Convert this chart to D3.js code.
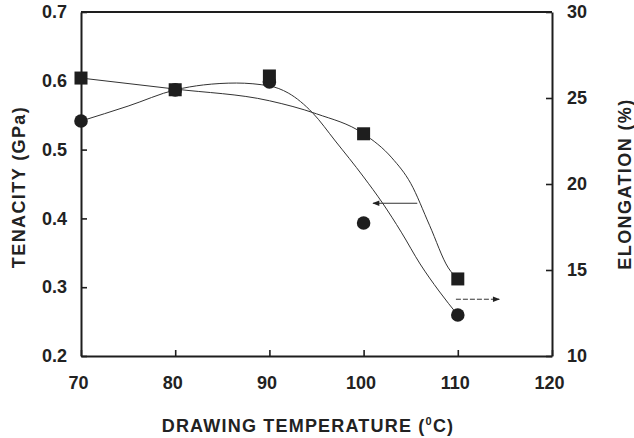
<!DOCTYPE html>
<html>
<head>
<meta charset="utf-8">
<script src="https://cdn.jsdelivr.net/npm/d3@7"></script>
<style>
  html, body { margin: 0; padding: 0; background: #fff; }
  svg { display: block; }
  text { font-family: Arial, "Liberation Sans", Helvetica, sans-serif; font-weight: bold; fill: #222; }
</style>
</head>
<body>
<svg id="chart" width="634" height="438"></svg>
<script>
// ---- data ----
const temperatures = [70, 80, 90, 100, 110];
const tenacity = [0.604, 0.587, 0.607, 0.523, 0.312];      // squares, left axis (GPa)
const elongation = [23.66, 25.47, 25.93, 17.73, 12.38];    // circles, right axis (%)

// fitted trend curves
const tenacityFitX = [70, 80, 90, 95, 100, 103, 105, 107, 109, 110];
const tenacityFitY = [0.604, 0.588, 0.571, 0.552, 0.523, 0.488, 0.451, 0.390, 0.328, 0.312];
const elongationFitX = [70, 75, 80, 83, 86.5, 90, 92, 94.6, 97, 100, 102, 104, 106, 108, 110];
const elongationFitY = [23.66, 24.53, 25.47, 25.76, 25.87, 25.70, 25.29, 24.13, 22.50, 20.41, 18.90, 17.20, 15.35, 13.78, 12.38];

const xTicks = [70, 80, 90, 100, 110, 120];
const yLeftTicks = [0.2, 0.3, 0.4, 0.5, 0.6, 0.7];
const yRightTicks = [10, 15, 20, 25, 30];

// annotation arrows (data space)
const leftArrow = {x1: 105.7, x2: 101.0, y: 0.422};   // points to left axis
const rightArrow = {x1: 109.8, x2: 114.4, y: 13.3};   // points to right axis

// ---- layout ----
const svg = d3.select("#chart");
const mLeft = 81, mRight = 552, mTop = 12, mBottom = 356;

const x = d3.scaleLinear().domain([70, 120]).range([mLeft, mRight]);
const yL = d3.scaleLinear().domain([0.2, 0.7]).range([mBottom, mTop]);
const yR = d3.scaleLinear().domain([10, 30]).range([mBottom, mTop]);

const ink = "#1e1e1e";

// frame top line
svg.append("line").attr("x1", mLeft).attr("x2", mRight).attr("y1", mTop).attr("y2", mTop)
  .attr("stroke", ink).attr("stroke-width", 2);

// axes
const fmtL = d3.format(".1f");
const gB = svg.append("g").attr("transform", `translate(0,${mBottom})`)
  .call(d3.axisBottom(x).tickValues(xTicks).tickSizeInner(-6).tickSizeOuter(0).tickPadding(20));
const gL = svg.append("g").attr("transform", `translate(${mLeft},0)`)
  .call(d3.axisLeft(yL).tickValues(yLeftTicks).tickFormat(fmtL).tickSizeInner(-6).tickSizeOuter(0).tickPadding(14));
const gR = svg.append("g").attr("transform", `translate(${mRight},0)`)
  .call(d3.axisRight(yR).tickValues(yRightTicks).tickSizeInner(-6).tickSizeOuter(0).tickPadding(15));

[gB, gL, gR].forEach(g => {
  g.select(".domain").attr("stroke", ink).attr("stroke-width", 2);
  g.selectAll(".tick line").attr("stroke", ink).attr("stroke-width", 1.6);
  g.selectAll(".tick text").attr("fill", "#222").style("font-size", "18px")
    .style("font-family", "Arial, 'Liberation Sans', sans-serif").style("font-weight", "bold");
});
gB.selectAll(".tick text").attr("dx", "-3px");

// axis titles
svg.append("text")
  .attr("transform", `translate(25,${(mTop + mBottom) / 2 + 3}) rotate(-90)`)
  .attr("text-anchor", "middle").style("font-size", "18px").style("letter-spacing", "1.4px")
  .text("TENACITY (GPa)");

svg.append("text")
  .attr("transform", `translate(631,${(mTop + mBottom) / 2}) rotate(-90)`)
  .attr("text-anchor", "middle").style("font-size", "18px").style("letter-spacing", "1.4px")
  .text("ELONGATION (%)");

const xt = svg.append("text")
  .attr("x", 308).attr("y", 432)
  .attr("text-anchor", "middle").style("font-size", "18px").style("letter-spacing", "1.2px");
xt.append("tspan").text("DRAWING TEMPERATURE (");
xt.append("tspan").text("0").style("font-size", "11px").attr("dy", "-7");
xt.append("tspan").text("C)").attr("dy", "7");

// fitted curves
const tenFit = tenacityFitX.map((d, i) => [d, tenacityFitY[i]]);
const elFit = elongationFitX.map((d, i) => [d, elongationFitY[i]]);

svg.append("path").datum(tenFit)
  .attr("fill", "none").attr("stroke", "#333").attr("stroke-width", 1)
  .attr("d", d3.line().x(d => x(d[0])).y(d => yL(d[1])).curve(d3.curveMonotoneX));

svg.append("path").datum(elFit)
  .attr("fill", "none").attr("stroke", "#333").attr("stroke-width", 1)
  .attr("d", d3.line().x(d => x(d[0])).y(d => yR(d[1])).curve(d3.curveMonotoneX));

// arrows
const defs = svg.append("defs");
defs.append("marker").attr("id", "ah").attr("viewBox", "0 0 10 10")
  .attr("refX", 9).attr("refY", 5).attr("markerWidth", 9).attr("markerHeight", 7)
  .attr("markerUnits", "userSpaceOnUse").attr("orient", "auto")
  .append("path").attr("d", "M0,1 L10,5 L0,9 Z").attr("fill", "#222");

svg.append("line")
  .attr("x1", x(leftArrow.x1)).attr("x2", x(leftArrow.x2))
  .attr("y1", yL(leftArrow.y)).attr("y2", yL(leftArrow.y))
  .attr("stroke", "#333").attr("stroke-width", 1).attr("marker-end", "url(#ah)");

svg.append("line")
  .attr("x1", x(rightArrow.x1)).attr("x2", x(rightArrow.x2))
  .attr("y1", yR(rightArrow.y)).attr("y2", yR(rightArrow.y))
  .attr("stroke", "#333").attr("stroke-width", 1).attr("stroke-dasharray", "5,2")
  .attr("marker-end", "url(#ah)");

// markers: circles first, squares on top
svg.append("g").selectAll("circle").data(temperatures).join("circle")
  .attr("cx", d => x(d)).attr("cy", (d, i) => yR(elongation[i])).attr("r", 6.8)
  .attr("fill", ink);

const s = 13;
svg.append("g").selectAll("rect").data(temperatures).join("rect")
  .attr("x", d => x(d) - s / 2).attr("y", (d, i) => yL(tenacity[i]) - s / 2)
  .attr("width", s).attr("height", s).attr("fill", ink);
</script>
</body>
</html>
